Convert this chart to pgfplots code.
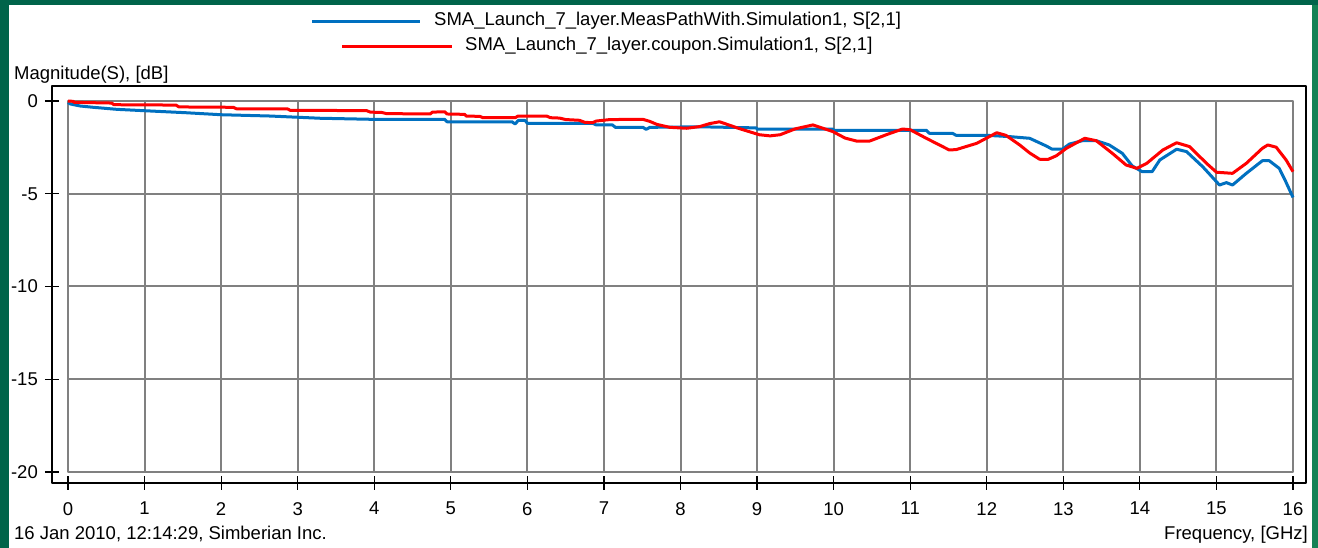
\documentclass[border=0pt]{standalone}
\usepackage{fontspec}
\setmainfont{Liberation Sans}
\usepackage{pgfplots}
\pgfplotsset{compat=1.18}
\definecolor{bgreen}{RGB}{0,100,74}
\definecolor{bgreenr}{RGB}{20,130,85}
\definecolor{sblue}{RGB}{0,112,192}
\definecolor{sred}{RGB}{255,0,0}
\definecolor{gridgray}{RGB}{128,128,128}

\begin{document}
\fontsize{18.5}{22}\selectfont
\begin{tikzpicture}
\useasboundingbox (0pt,0pt) rectangle (1318pt,548pt);
\fill[bgreen] (0pt,0pt) rectangle (1318pt,548pt);
\fill[bgreenr] (1312pt,0pt) rectangle (1318pt,543pt);
\fill[white] (9pt,0pt) rectangle (1312pt,543pt);
\begin{axis}[
  at={(52pt,65pt)}, anchor=south west,
  scale only axis, width=1254pt, height=397pt,
  xmin=-0.209, xmax=16.170, ymin=-20.593, ymax=0.809,
  axis line style={black, line width=1.8pt},
  xtick={0,...,16}, ytick={-20,-15,-10,-5,0},
  xtick pos=bottom, ytick pos=left,
  tick align=center, major tick length=14pt,
  tick style={black, line width=1.2pt},
  /pgf/number format/assume math mode=true,
  ticklabel style={font=\fontsize{18.5}{22}\selectfont},
  yticklabel style={anchor=east, inner sep=0pt, xshift=-7pt},
  xticklabel style={anchor=north, inner sep=0pt, yshift=-12pt},
  line join=round,
]
\draw[gridgray, line width=2pt] (axis cs:0,-20) rectangle (axis cs:16,0);
\pgfplotsinvokeforeach{1,...,15}{\draw[gridgray, line width=2pt] (axis cs:#1,-20) -- (axis cs:#1,0);}
\pgfplotsinvokeforeach{-15,-10,-5}{\draw[gridgray, line width=2pt] (axis cs:0,#1) -- (axis cs:16,#1);}

\addplot[sblue, line width=3pt, no markers] coordinates {
(0.0,-0.08) (0.03,-0.16) (0.16,-0.27) (0.33,-0.34) (0.64,-0.45) (0.98,-0.52)
(1.53,-0.63) (2.0,-0.74) (2.64,-0.81) (3.29,-0.93) (4.0,-0.99) (4.92,-0.99)
(4.95,-1.12) (5.80,-1.12) (5.84,-1.24) (5.88,-1.05) (5.97,-1.05) (6.0,-1.20)
(6.85,-1.20) (6.9,-1.29) (7.11,-1.29) (7.15,-1.42) (7.51,-1.42) (7.55,-1.53)
(7.6,-1.42) (8.25,-1.39) (8.99,-1.45) (9.0,-1.51) (9.99,-1.51) (10.0,-1.58)
(11.21,-1.58) (11.25,-1.74) (11.55,-1.74) (11.6,-1.85) (12.0,-1.85) (12.3,-1.92)
(12.56,-2.01) (12.78,-2.43) (12.85,-2.59) (12.99,-2.59) (13.08,-2.32) (13.25,-2.14)
(13.43,-2.14) (13.60,-2.37) (13.77,-2.82) (13.90,-3.50) (14.03,-3.81) (14.16,-3.81)
(14.26,-3.18) (14.48,-2.60) (14.61,-2.73) (14.82,-3.54) (15.04,-4.53) (15.13,-4.40)
(15.21,-4.53) (15.39,-3.90) (15.60,-3.22) (15.69,-3.22) (15.82,-3.63) (15.9,-4.3)
(16.0,-5.2)
};
\addplot[sred, line width=3pt, no markers] coordinates {
(0.0,0.0) (0.07,-0.02) (0.08,-0.07) (0.3,-0.09) (0.57,-0.11) (0.6,-0.2)
(1.41,-0.22) (1.45,-0.32) (2.16,-0.34) (2.2,-0.42) (2.87,-0.43) (2.9,-0.5)
(3.9,-0.52) (3.95,-0.6) (4.1,-0.62) (4.16,-0.68) (4.73,-0.70) (4.76,-0.60)
(4.92,-0.58) (4.95,-0.70) (5.18,-0.72) (5.2,-0.81) (5.38,-0.83) (5.42,-0.90)
(5.84,-0.90) (5.88,-0.81) (6.25,-0.81) (6.3,-0.90) (6.42,-0.92) (6.5,-1.0)
(6.68,-1.04) (6.75,-1.15) (6.85,-1.17) (6.9,-1.08) (7.08,-1.0) (7.51,-0.99)
(7.6,-1.1) (7.69,-1.26) (7.86,-1.42) (8.08,-1.47) (8.25,-1.38) (8.38,-1.22)
(8.51,-1.12) (8.77,-1.49) (9.03,-1.82) (9.17,-1.88) (9.30,-1.82) (9.5,-1.5)
(9.73,-1.29) (9.99,-1.65) (10.15,-2.0) (10.30,-2.16) (10.47,-2.16) (10.7,-1.8)
(10.90,-1.51) (11.0,-1.55) (11.21,-2.01) (11.51,-2.64) (11.6,-2.62) (11.87,-2.28)
(12.13,-1.71) (12.25,-1.85) (12.43,-2.37) (12.56,-2.8) (12.69,-3.14) (12.80,-3.15)
(12.91,-2.95) (13.04,-2.55) (13.28,-2.01) (13.43,-2.14) (13.64,-2.82) (13.82,-3.45)
(13.96,-3.63) (14.09,-3.36) (14.30,-2.64) (14.48,-2.25) (14.65,-2.46) (14.87,-3.36)
(15.0,-3.84) (15.21,-3.90) (15.39,-3.36) (15.60,-2.55) (15.67,-2.37) (15.78,-2.49)
(15.91,-3.18) (16.0,-3.81)
};
\end{axis}
% labels
\node[anchor=base west, inner sep=0pt] at (14pt,468pt) {Magnitude(S), [dB]};
\node[anchor=base west, inner sep=0pt] at (14pt,8pt) {16 Jan 2010, 12:14:29, Simberian Inc.};
\node[anchor=base east, inner sep=0pt] at (1308pt,8pt) {Frequency, [GHz]};
% legend
\draw[sblue, line width=3pt] (312pt,526.3pt) -- (420pt,526.3pt);
\node[anchor=west, inner sep=0pt] at (434pt,527pt) {SMA\_Launch\_7\_layer.MeasPathWith.Simulation1, S[2,1]};
\draw[sred, line width=3pt] (342pt,501.3pt) -- (452pt,501.3pt);
\node[anchor=west, inner sep=0pt] at (465pt,502pt) {SMA\_Launch\_7\_layer.coupon.Simulation1, S[2,1]};
\end{tikzpicture}
\end{document}
